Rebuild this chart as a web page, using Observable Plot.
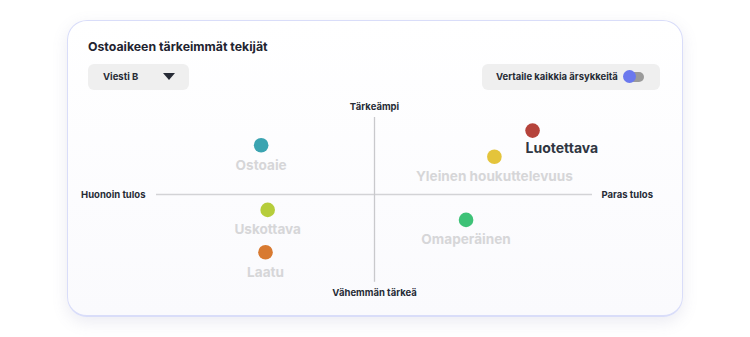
<!DOCTYPE html>
<html><head><meta charset="utf-8">
<script src="https://cdn.jsdelivr.net/npm/d3@7"></script>
<script src="https://cdn.jsdelivr.net/npm/@observablehq/plot@0.6"></script>
<style>
html,body{margin:0;padding:0;background:#ffffff;width:750px;height:337px;overflow:hidden;font-family:Inter,"Noto Sans",sans-serif;}
#card{position:absolute;left:67px;top:20px;width:614px;height:294px;border:1px solid #d9ddf9;border-bottom-width:2px;border-radius:20px;background:linear-gradient(180deg,#ffffff 0%,#fafafd 100%);box-shadow:0 5px 16px rgba(110,110,160,0.14);}
#title{position:absolute;left:20px;top:18px;font-size:12.3px;font-weight:700;color:#1f2430;}
.box{position:absolute;top:43px;height:26px;border-radius:6px;background:#efefef;font-size:9.5px;font-weight:700;color:#262b35;}
#dd{left:20px;width:101px;}
#dd span{position:absolute;left:15px;top:7px;}
#dd .tri{position:absolute;left:75px;top:9px;width:0;height:0;border-left:6px solid transparent;border-right:6px solid transparent;border-top:7px solid #262b35;}
#tg{left:414px;width:178px;}
#tg span{position:absolute;left:14px;top:7px;}
#tg .track{position:absolute;left:142px;top:8px;width:20px;height:10px;border-radius:5px;background:#9a9a9a;}
#tg .knob{position:absolute;left:141px;top:6px;width:13px;height:13px;border-radius:50%;background:#6a78ee;}
#chart{position:absolute;left:0;top:77px;}
</style></head>
<body>
<div id="card">
  <div id="title">Ostoaikeen tärkeimmät tekijät</div>
  <div class="box" id="dd"><span>Viesti B</span><div class="tri"></div></div>
  <div class="box" id="tg"><span>Vertaile kaikkia ärsykkeitä</span><div class="track"></div><div class="knob"></div></div>
  <div id="chart"></div>
</div>
<script>
// Data
const names = ["Ostoaie", "Uskottava", "Laatu", "Luotettava", "Yleinen houkuttelevuus", "Omaperäinen"];
const performance = [-0.52, -0.49, -0.50, 0.725, 0.55, 0.42];   // x: Huonoin tulos -> Paras tulos
const importance = [0.64, -0.20, -0.75, 0.83, 0.49, -0.33];      // y: Vähemmän tärkeä -> Tärkeämpi
const colors = ["#3ba4b1", "#b6cd3b", "#d87a31", "#b5433b", "#e4c43b", "#3ec277"];
const highlighted = ["Luotettava"];
const axisLabels = {left: "Huonoin tulos", right: "Paras tulos", top: "Tärkeämpi", bottom: "Vähemmän tärkeä"};
const xExtent = [-1, 1];
const yExtent = [-1.14, 1];

const pts = names.map((n, i) => ({name: n, x: performance[i], y: importance[i], color: colors[i], hl: highlighted.includes(n)}));
const normal = pts.filter(d => !d.hl);
const hl = pts.filter(d => d.hl);

const chart = Plot.plot({
  width: 614, height: 212,
  marginLeft: 88, marginRight: 90, marginTop: 19, marginBottom: 26,
  x: {domain: [-1, 1], axis: null},
  y: {domain: [-1, 1], range: [173, 19], axis: null},
  style: {fontFamily: "Inter, 'Noto Sans', sans-serif", background: "transparent", overflow: "visible"},
  marks: [
    Plot.ruleY([0], {x1: xExtent[0], x2: xExtent[1], stroke: "#d3d3d6", strokeWidth: 1.3}),
    Plot.ruleX([0], {y1: yExtent[0], y2: yExtent[1], stroke: "#c9c9cc", strokeWidth: 1.3}),
    Plot.text([axisLabels.left], {x: xExtent[0], y: 0, text: d => d, textAnchor: "end", dx: -11, fontSize: 9.5, fontWeight: 700, fill: "#262b35"}),
    Plot.text([axisLabels.right], {x: xExtent[1], y: 0, text: d => d, textAnchor: "start", dx: 9, fontSize: 9.5, fontWeight: 700, fill: "#262b35"}),
    Plot.text([axisLabels.top], {x: 0, y: yExtent[1], text: d => d, dy: -11, fontSize: 9.5, fontWeight: 700, fill: "#262b35"}),
    Plot.text([axisLabels.bottom], {x: 0, y: yExtent[0], text: d => d, dy: 11, fontSize: 9.5, fontWeight: 700, fill: "#262b35"}),
    Plot.dot(pts, {x: "x", y: "y", r: 7.3, fill: "color", stroke: null}),
    Plot.text(normal, {x: "x", y: "y", text: "name", dy: 20, fontSize: 13.6, fontWeight: 700, fill: "#d6d6d8"}),
    Plot.text(hl, {x: "x", y: "y", text: "name", dy: 18, dx: -7, textAnchor: "start", fontSize: 14, fontWeight: 700, fill: "#2f3541"})
  ]
});
document.getElementById("chart").appendChild(chart);
</script>
</body></html>
